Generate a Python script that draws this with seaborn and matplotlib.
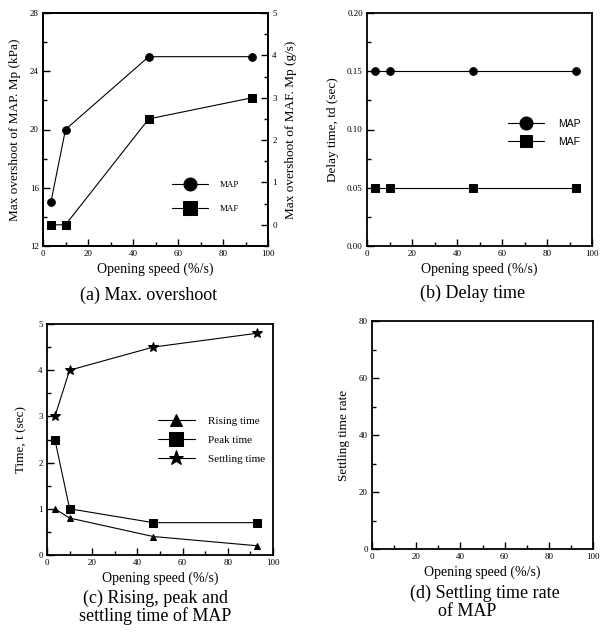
import numpy as np
import pandas as pd
import matplotlib
matplotlib.use("Agg")
import matplotlib.pyplot as plt
from matplotlib.ticker import MultipleLocator
import seaborn as sns

# ---------------- data ----------------
speed = [3.5, 10, 47, 93]                 # opening speed (%/s)

# (a) max overshoot
map_overshoot = [15, 20, 25, 25]          # kPa (left axis)
maf_overshoot = [0, 0, 2.5, 3.0]          # g/s (right axis)

# (b) delay time
map_delay = [0.15, 0.15, 0.15, 0.15]
maf_delay = [0.05, 0.05, 0.05, 0.05]

# (c) rising / peak / settling time of MAP
rising_time = [1.0, 0.8, 0.4, 0.2]
peak_time = [2.5, 1.0, 0.7, 0.7]
settling_time = [3.0, 4.0, 4.5, 4.8]

captions = ["(a) Max. overshoot", "(b) Delay time",
            "(c) Rising, peak and\nsettling time of MAP",
            "(d) Settling time rate", "of MAP"]

# ---------------- style ----------------
sns.set_theme(style="ticks")
plt.rcParams["font.family"] = ["Liberation Serif", "DejaVu Serif"]
plt.rcParams["axes.linewidth"] = 1.3
plt.rcParams["axes.edgecolor"] = "black"
plt.rcParams["xtick.color"] = "black"
plt.rcParams["ytick.color"] = "black"
plt.rcParams["text.color"] = "black"
plt.rcParams["axes.labelcolor"] = "black"

W, H = 600, 635
fig = plt.figure(figsize=(6.0, 6.35), dpi=100)


def add_ax(left, right, top, bottom):
    return fig.add_axes([left / W, 1 - bottom / H, (right - left) / W, (bottom - top) / H])


def style_ticks(ax, right=False):
    ax.tick_params(which="both", direction="in", labelsize=6.5, pad=3,
                   top=False, right=right, width=1.0)
    ax.tick_params(which="major", length=5)
    ax.tick_params(which="minor", length=3)


LW = 0.8

# ---------------- (a) ----------------
axa = add_ax(43, 268, 13, 246)
sns.lineplot(x=speed, y=map_overshoot, ax=axa, color="black", marker="o",
             markersize=5.5, markeredgecolor="black", linewidth=LW, label="MAP", legend=False)
axa.set_xlim(0, 100)
axa.set_ylim(12, 28)
axa.xaxis.set_major_locator(MultipleLocator(20))
axa.xaxis.set_minor_locator(MultipleLocator(10))
axa.yaxis.set_major_locator(MultipleLocator(4))
axa.yaxis.set_minor_locator(MultipleLocator(2))
style_ticks(axa)
axa.set_xlabel("Opening speed (%/s)", fontsize=10, labelpad=3)
axa.set_ylabel("Max overshoot of MAP. Mp (kPa)", fontsize=9.5, labelpad=6)

axa2 = axa.twinx()
sns.lineplot(x=speed, y=maf_overshoot, ax=axa2, color="black", marker="s",
             markersize=6, markeredgecolor="black", linewidth=LW, label="MAF", legend=False)
axa2.set_ylim(-0.5, 5)
axa2.yaxis.set_major_locator(MultipleLocator(1))
axa2.yaxis.set_minor_locator(MultipleLocator(0.5))
axa2.tick_params(which="both", direction="in", labelsize=6.5, pad=3, width=1.0)
axa2.tick_params(which="major", length=5)
axa2.tick_params(which="minor", length=3)
axa2.set_ylabel("Max overshoot of MAF. Mp (g/s)", fontsize=9.5, labelpad=6)
for s in axa2.spines.values():
    s.set_linewidth(1.3)

h1, l1 = axa.get_legend_handles_labels()
h2, l2 = axa2.get_legend_handles_labels()
axa2.legend(h1 + h2, l1 + l2, loc="center left", bbox_to_anchor=(167 / W, 1 - 197 / H),
            bbox_transform=fig.transFigure, frameon=False, fontsize=6.5, borderpad=0,
            handlelength=4.0, handletextpad=1.3, labelspacing=1.7, markerscale=1.7)

# ---------------- (b) ----------------
axb = add_ax(367, 592, 13, 246)
sns.lineplot(x=speed, y=map_delay, ax=axb, color="black", marker="o",
             markersize=5.5, markeredgecolor="black", linewidth=LW, label="MAP")
sns.lineplot(x=speed, y=maf_delay, ax=axb, color="black", marker="s",
             markersize=5.5, markeredgecolor="black", linewidth=LW, label="MAF")
axb.set_xlim(0, 100)
axb.set_ylim(0, 0.2)
axb.xaxis.set_major_locator(MultipleLocator(20))
axb.xaxis.set_minor_locator(MultipleLocator(10))
axb.yaxis.set_major_locator(MultipleLocator(0.05))
axb.yaxis.set_minor_locator(MultipleLocator(0.025))
style_ticks(axb)
axb.set_xlabel("Opening speed (%/s)", fontsize=10, labelpad=3)
axb.set_ylabel("Delay time, td (sec)", fontsize=9.5, labelpad=6)
axb.legend(loc="center left", bbox_to_anchor=(503 / W, 1 - 133 / H),
           bbox_transform=fig.transFigure, frameon=False, borderpad=0,
           prop={"family": ["Liberation Sans", "DejaVu Sans"], "size": 7.5},
           handlelength=3.45, handletextpad=1.35, labelspacing=0.75, markerscale=1.7)

# ---------------- (c) ----------------
axc = add_ax(47, 273, 324, 555)
sns.lineplot(x=speed, y=rising_time, ax=axc, color="black", marker="^",
             markersize=5, markeredgecolor="black", linewidth=LW, label="Rising time")
sns.lineplot(x=speed, y=peak_time, ax=axc, color="black", marker="s",
             markersize=6, markeredgecolor="black", linewidth=LW, label="Peak time")
sns.lineplot(x=speed, y=settling_time, ax=axc, color="black", marker="*",
             markersize=7, markeredgecolor="black", linewidth=LW, label="Settling time")
axc.set_xlim(0, 100)
axc.set_ylim(0, 5)
axc.xaxis.set_major_locator(MultipleLocator(20))
axc.xaxis.set_minor_locator(MultipleLocator(10))
axc.yaxis.set_major_locator(MultipleLocator(1))
axc.yaxis.set_minor_locator(MultipleLocator(0.5))
style_ticks(axc)
axc.set_xlabel("Opening speed (%/s)", fontsize=10, labelpad=3)
axc.set_ylabel("Time, t (sec)", fontsize=9.5, labelpad=8)
axc.legend(loc="center left", bbox_to_anchor=(152 / W, 1 - 440 / H),
           bbox_transform=fig.transFigure, frameon=False, borderpad=0, fontsize=8,
           handlelength=3.4, handletextpad=1.1, labelspacing=0.85, markerscale=1.6)

# ---------------- (d) ----------------
axd = add_ax(372, 593, 321, 549)
axd.set_xlim(0, 100)
axd.set_ylim(0, 80)
axd.xaxis.set_major_locator(MultipleLocator(20))
axd.xaxis.set_minor_locator(MultipleLocator(10))
axd.yaxis.set_major_locator(MultipleLocator(20))
axd.yaxis.set_minor_locator(MultipleLocator(10))
style_ticks(axd)
axd.set_xlabel("Opening speed (%/s)", fontsize=10, labelpad=3)
axd.set_ylabel("Settling time rate", fontsize=9.5, labelpad=6)

# ---------------- captions ----------------
fig.text(149 / W, 1 - 295 / H, captions[0], ha="center", va="center", fontsize=13)
fig.text(473 / W, 1 - 293 / H, captions[1], ha="center", va="center", fontsize=13)
fig.text(155 / W, 1 - 607 / H, captions[2], ha="center", va="center", fontsize=13,
         linespacing=1.0)
fig.text(410 / W, 1 - 593 / H, captions[3], ha="left", va="center", fontsize=13)
fig.text(438 / W, 1 - 611 / H, captions[4], ha="left", va="center", fontsize=13)

fig.savefig("out.png", dpi=100, facecolor="white")
